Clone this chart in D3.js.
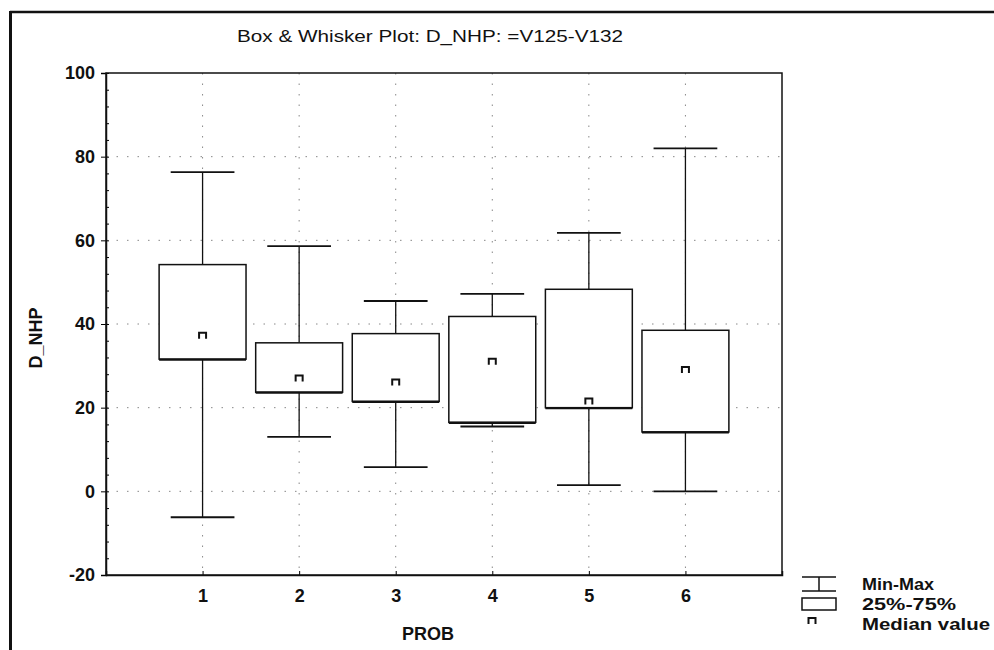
<!DOCTYPE html>
<html>
<head>
<meta charset="utf-8">
<script src="https://cdn.jsdelivr.net/npm/d3@7"></script>
<style>
  body { margin: 0; background: #fff; }
  text { font-family: "Liberation Sans", Arial, sans-serif; font-weight: bold; fill: #111; }
</style>
</head>
<body>
<svg id="chart" width="994" height="650"></svg>
<script>
// --- Data ---
const groups = ["1", "2", "3", "4", "5", "6"];
const minVals = [-6.2, 13, 5.8, 15.5, 1.5, 0];
const q1Vals = [31.6, 23.7, 21.5, 16.5, 20, 14.2];
const medianVals = [37.2, 27, 26, 31, 21.5, 29];
const q3Vals = [54.2, 35.5, 37.7, 41.8, 48.3, 38.5];
const maxVals = [76.3, 58.6, 45.5, 47.2, 61.8, 82];
const yTicks = [-20, 0, 20, 40, 60, 80, 100];

const svg = d3.select("#chart");

// plot area
const plotL = 106, plotR = 782, plotT = 73, plotB = 575;

const x = d3.scaleLinear().domain([0, 7]).range([plotL, plotR]);
const y = d3.scaleLinear().domain([-20, 100]).range([plotB, plotT]);
const step = x(1) - x(0);
const boxW = step * 0.9;
const capW = step * 0.66;

// outer frame of the scanned figure
svg.append("line").attr("x1", 10).attr("x2", 994).attr("y1", 12).attr("y2", 12)
    .attr("stroke", "#111").attr("stroke-width", 2.5);
svg.append("line").attr("x1", 10.5).attr("x2", 10.5).attr("y1", 11).attr("y2", 650)
    .attr("stroke", "#111").attr("stroke-width", 3);

// dotted grid
const grid = svg.append("g").attr("stroke", "#888").attr("stroke-width", 1)
    .attr("stroke-dasharray", "1.5,9");
grid.selectAll("line.h").data(yTicks.filter(d => d > -20 && d < 100)).join("line")
    .attr("class", "h")
    .attr("x1", plotL).attr("x2", plotR)
    .attr("y1", d => y(d)).attr("y2", d => y(d));
grid.selectAll("line.v").data(groups).join("line")
    .attr("class", "v")
    .attr("x1", (d, i) => x(i + 1)).attr("x2", (d, i) => x(i + 1))
    .attr("y1", plotT).attr("y2", plotB);

// axes (plain hyphen for negatives, like the original)
const yAxis = d3.axisLeft(y).tickValues(yTicks).tickSize(5).tickPadding(6)
    .tickFormat(d => String(d));
const gy = svg.append("g").attr("transform", `translate(${plotL},0)`).call(yAxis);
gy.selectAll("text").style("font-size", "18px");

const yMinor = d3.axisLeft(y).tickValues(d3.range(-20, 101, 4)).tickSize(-3).tickFormat("");
svg.append("g").attr("transform", `translate(${plotL},0)`).call(yMinor)
    .select(".domain").remove();

const xAxis = d3.axisBottom(x).tickValues(d3.range(1, 7))
    .tickFormat((d, i) => groups[i]).tickSize(-4).tickPadding(14);
const gx = svg.append("g").attr("transform", `translate(0,${plotB})`).call(xAxis);
gx.selectAll("text").style("font-size", "18px");

svg.selectAll(".domain").attr("stroke", "#111").attr("stroke-width", 1.5);

// plot frame
svg.append("rect").attr("x", plotL).attr("y", plotT)
    .attr("width", plotR - plotL).attr("height", plotB - plotT)
    .attr("fill", "none").attr("stroke", "#111").attr("stroke-width", 1.5);

// boxes
const boxes = svg.selectAll("g.box").data(groups).join("g").attr("class", "box")
    .attr("stroke", "#111").attr("fill", "none");

boxes.append("line")
    .attr("x1", (d, i) => x(i + 1)).attr("x2", (d, i) => x(i + 1))
    .attr("y1", (d, i) => y(maxVals[i])).attr("y2", (d, i) => y(q3Vals[i]))
    .attr("stroke-width", 1.3);
boxes.append("line")
    .attr("x1", (d, i) => x(i + 1)).attr("x2", (d, i) => x(i + 1))
    .attr("y1", (d, i) => y(q1Vals[i])).attr("y2", (d, i) => y(minVals[i]))
    .attr("stroke-width", 1.3);
boxes.append("line")
    .attr("x1", (d, i) => x(i + 1) - capW / 2).attr("x2", (d, i) => x(i + 1) + capW / 2)
    .attr("y1", (d, i) => y(maxVals[i])).attr("y2", (d, i) => y(maxVals[i]))
    .attr("stroke-width", 1.8);
boxes.append("line")
    .attr("x1", (d, i) => x(i + 1) - capW / 2).attr("x2", (d, i) => x(i + 1) + capW / 2)
    .attr("y1", (d, i) => y(minVals[i])).attr("y2", (d, i) => y(minVals[i]))
    .attr("stroke-width", 1.8);
boxes.append("rect")
    .attr("x", (d, i) => x(i + 1) - boxW / 2).attr("width", boxW)
    .attr("y", (d, i) => y(q3Vals[i]))
    .attr("height", (d, i) => y(q1Vals[i]) - y(q3Vals[i]))
    .attr("fill", "#fff").attr("stroke-width", 1.5);
boxes.append("line")
    .attr("x1", (d, i) => x(i + 1) - boxW / 2).attr("x2", (d, i) => x(i + 1) + boxW / 2)
    .attr("y1", (d, i) => y(q1Vals[i]) + 0.5).attr("y2", (d, i) => y(q1Vals[i]) + 0.5)
    .attr("stroke-width", 2.2);

// median marker (small "п" glyph)
const medMark = (cx, cy) => `M${cx - 3.5},${cy + 3}V${cy - 3}H${cx + 3.5}V${cy + 3}`;
boxes.append("path")
    .attr("d", (d, i) => medMark(x(i + 1), y(medianVals[i])))
    .attr("stroke-width", 2);

// titles
svg.append("text").attr("x", 430).attr("y", 42).attr("text-anchor", "middle")
    .style("font-size", "17px").style("font-weight", "normal")
    .attr("textLength", 386).attr("lengthAdjust", "spacingAndGlyphs")
    .text("Box & Whisker Plot: D_NHP: =V125-V132");
svg.append("text").attr("x", 428).attr("y", 640).attr("text-anchor", "middle")
    .style("font-size", "18px").text("PROB");
svg.append("text").attr("transform", "translate(42,338) rotate(-90)")
    .attr("text-anchor", "middle").style("font-size", "18px").text("D_NHP");

// legend
const legend = svg.append("g").attr("transform", "translate(800,0)");
const lg = legend.append("g").attr("stroke", "#111").attr("fill", "none").attr("stroke-width", 1.5);
lg.append("line").attr("x1", 2).attr("x2", 36).attr("y1", 577).attr("y2", 577);
lg.append("line").attr("x1", 2).attr("x2", 36).attr("y1", 591).attr("y2", 591);
lg.append("line").attr("x1", 19).attr("x2", 19).attr("y1", 577).attr("y2", 591);
lg.append("rect").attr("x", 2).attr("y", 598).attr("width", 34).attr("height", 12);
lg.append("path").attr("d", medMark(12, 621)).attr("stroke-width", 2);
const labels = ["Min-Max", "25%-75%", "Median value"];
const labelW = [72, 94, 128];
legend.selectAll("text.lab").data(labels).join("text")
    .attr("x", 62).attr("y", (d, i) => 590 + i * 20)
    .attr("textLength", (d, i) => labelW[i]).attr("lengthAdjust", "spacingAndGlyphs")
    .style("font-size", "17px").text(d => d);
</script>
</body>
</html>
